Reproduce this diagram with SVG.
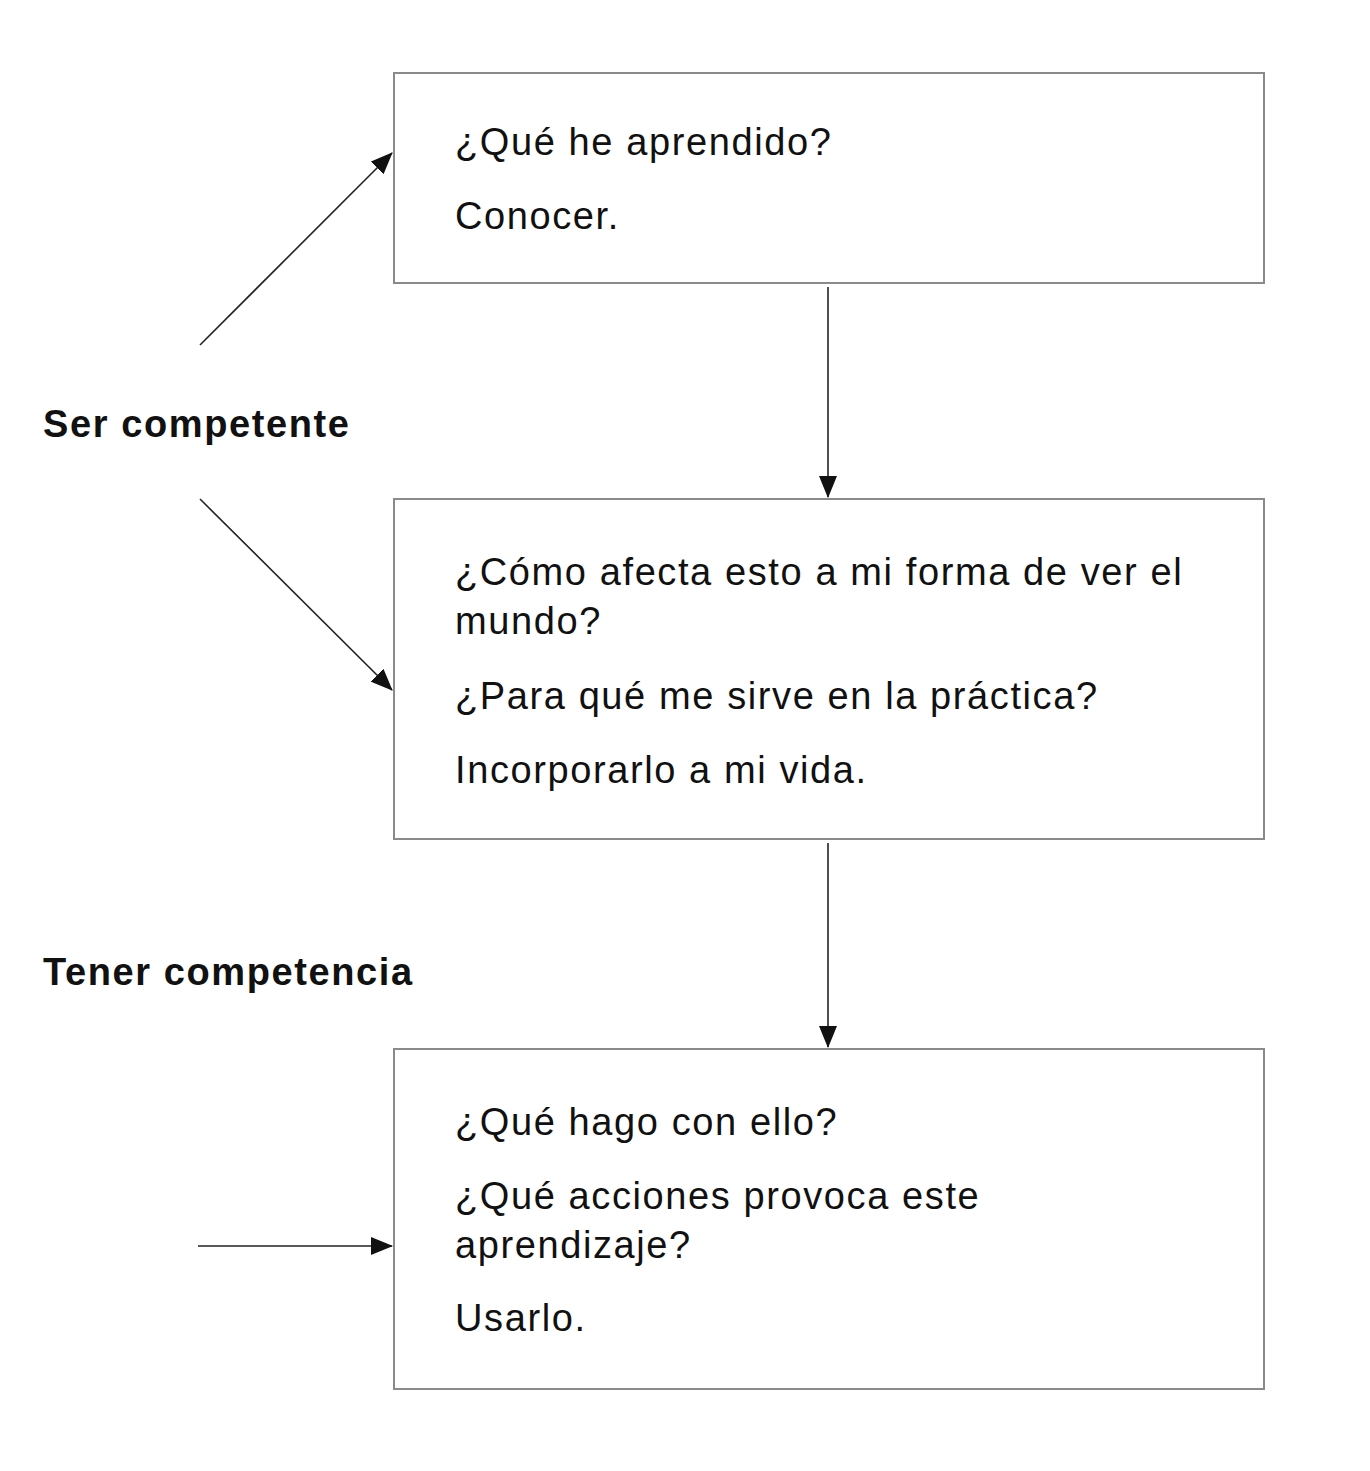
<svg xmlns="http://www.w3.org/2000/svg" width="1370" height="1471" viewBox="0 0 1370 1471">
<style>
.box{fill:#fff;stroke:#8a8a8a;stroke-width:2}
.t{font-family:"Liberation Sans",Arial,sans-serif;font-size:38px;letter-spacing:1.6px;fill:#111}
.b{font-family:"Liberation Sans",Arial,sans-serif;font-size:38px;letter-spacing:1.6px;font-weight:bold;fill:#111}
.c{stroke:#222;stroke-width:1.6;fill:none;marker-end:url(#ah)}
</style>
<defs><marker id="ah" markerWidth="22" markerHeight="18" refX="21" refY="9" orient="auto" markerUnits="userSpaceOnUse"><path d="M0,0L22,9L0,18z" fill="#111"/></marker></defs>
<rect width="1370" height="1471" fill="#fff"/>
<g id="n1"><rect class="box" x="394" y="73" width="870" height="210"/>
<text class="t" x="455" y="155">¿Qué he aprendido?</text><text class="t" x="455" y="229">Conocer.</text></g>
<g id="n2"><rect class="box" x="394" y="499" width="870" height="340"/>
<text class="t" x="455" y="585">¿Cómo afecta esto a mi forma de ver el</text><text class="t" x="455" y="634">mundo?</text>
<text class="t" x="455" y="709">¿Para qué me sirve en la práctica?</text><text class="t" x="455" y="783">Incorporarlo a mi vida.</text></g>
<g id="n3"><rect class="box" x="394" y="1049" width="870" height="340"/>
<text class="t" x="455" y="1135">¿Qué hago con ello?</text><text class="t" x="455" y="1209">¿Qué acciones provoca este</text>
<text class="t" x="455" y="1258">aprendizaje?</text><text class="t" x="455" y="1331">Usarlo.</text></g>
<g id="l1"><text class="b" x="43" y="437">Ser competente</text></g>
<g id="l2"><text class="b" x="43" y="985">Tener competencia</text></g>
<g id="connectors">
<line class="c" x1="200" y1="345" x2="392" y2="153"/>
<line class="c" x1="200" y1="499" x2="392" y2="690"/>
<line class="c" x1="198" y1="1246" x2="392" y2="1246"/>
<line class="c" x1="828" y1="287" x2="828" y2="497"/>
<line class="c" x1="828" y1="843" x2="828" y2="1047"/>
</g>
</svg>
